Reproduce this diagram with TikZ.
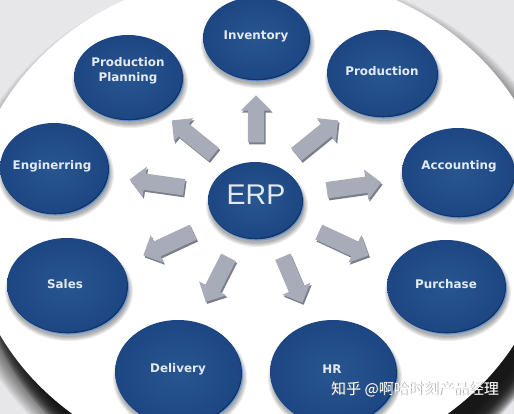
\documentclass[tikz,border=0pt]{standalone}
\usepackage{fontspec}
\newfontfamily\labfont{DejaVu Sans}
\newfontfamily\erpfont{Liberation Sans}
\newfontfamily\cjk{Noto Sans CJK SC}
\usetikzlibrary{shapes.geometric,shapes.arrows}
\definecolor{bgA}{HTML}{E7E7E9}
\definecolor{discA}{HTML}{28568F}
\definecolor{discB}{HTML}{1D4683}
\definecolor{rimL}{HTML}{6E9AD4}
\definecolor{rimD}{HTML}{133562}
\definecolor{arrF}{HTML}{A8ACB8}
\definecolor{arrS}{HTML}{7A7E8A}
\definecolor{txt}{HTML}{E3E9F2}
\tikzset{
  lab/.style={text=txt, font=\labfont\bfseries\fontsize{11.9}{14.5}\selectfont, align=center, inner sep=0},
  garrow/.style={single arrow, draw=none, fill=arrF, inner xsep=0pt, inner ysep=8pt,
    minimum width=0pt, single arrow head extend=7pt, minimum height=#1,
    preaction={fill=arrS, transform canvas={shift={(1.3pt,-2pt)}}}},
}
\newcommand\erpdisc[5]{% x, y, rx, ry
  \foreach \s in {0,1,2,3,4}{\fill[black, opacity=0.07] (#1+2,#2+6) ellipse [x radius=#3+4-\s, y radius=#4+3-\s];}
  \fill[rimL] (#1+2,#2+2.6) ellipse [x radius=#3, y radius=#4];
  \fill[rimD] (#1+1,#2+1.3) ellipse [x radius=#3, y radius=#4];
  \shade[inner color=discA, outer color=discB] (#1,#2) ellipse [x radius=#3, y radius=#4];
}
\begin{document}
\begin{tikzpicture}[x=1pt,y=-1pt]
\useasboundingbox (0,0) rectangle (514,414);
\begin{scope}
\clip (0,0) rectangle (514,414);
\fill[bgA] (0,0) rectangle (514,414);
\foreach \k in {0,...,13}{
  \fill[black, opacity=0.06] (264,240) ellipse [x radius=291+18-\k*1.6, y radius=251+18-\k*1.6];
}
\foreach \k in {0,...,11}{
  \fill[black, opacity=0.1] (274,252) ellipse [x radius=291+4-\k*1.2, y radius=251+4-\k*1.2];
}
\fill[white] (260,222) ellipse [x radius=291, y radius=251];

% discs
\erpdisc{256}{38}{53}{41}{}
\erpdisc{128}{77}{54}{42}{}
\erpdisc{382}{73}{55}{43}{}
\erpdisc{54}{168}{54}{45}{}
\erpdisc{458}{172}{56}{44}{}
\erpdisc{67}{285}{60}{47}{}
\erpdisc{446}{286}{59}{46}{}
\erpdisc{178}{372}{63}{52}{}
\erpdisc{333}{372}{63}{52}{}
\erpdisc{255}{200}{47}{38}{}

\node[lab] (inv) at (256,36) {Inventory};
\node[lab] (pp) at (128,71) {Production\\Planning};
\node[lab] (prod) at (382,71) {Production};
\node[lab] (eng) at (52,166) {Enginerring};
\node[lab] (acc) at (459,166) {Accounting};
\node[lab] (sal) at (65,284) {Sales};
\node[lab] (pur) at (446,284) {Purchase};
\node[lab] (del) at (178,369) {Delivery};
\node[lab] (hr) at (332,369) {HR};
\node[text=txt, font=\erpfont\fontsize{28.5}{32}\selectfont, inner sep=0] (erp) at (256,195) {ERP};

% arrows
\node[garrow=47pt, rotate=90] (a1) at (256,123) {};
\node[garrow=54pt, rotate=141] (a2) at (196,140) {};
\node[garrow=54pt, rotate=39] (a3) at (314,140) {};
\node[garrow=55pt, rotate=172] (a4) at (161,184) {};
\node[garrow=55pt, rotate=8] (a5) at (350,187) {};
\node[garrow=55pt, rotate=205] (a6) at (172,242) {};
\node[garrow=55pt, rotate=-25] (a7) at (340,242) {};
\node[garrow=50pt, rotate=243] (a8) at (219,276) {};
\node[garrow=50pt, rotate=293] (a9) at (291,276) {};

% watermark
\node[text=black!55, opacity=0.7, font=\cjk\fontsize{15}{18}\selectfont, inner sep=0] (wms) at (415.8,389.8) {知乎 @啊哈时刻产品经理};
\node[text=white, font=\cjk\fontsize{15}{18}\selectfont, inner sep=0] (wm) at (415,389) {知乎 @啊哈时刻产品经理};
\end{scope}
\end{tikzpicture}
\end{document}
